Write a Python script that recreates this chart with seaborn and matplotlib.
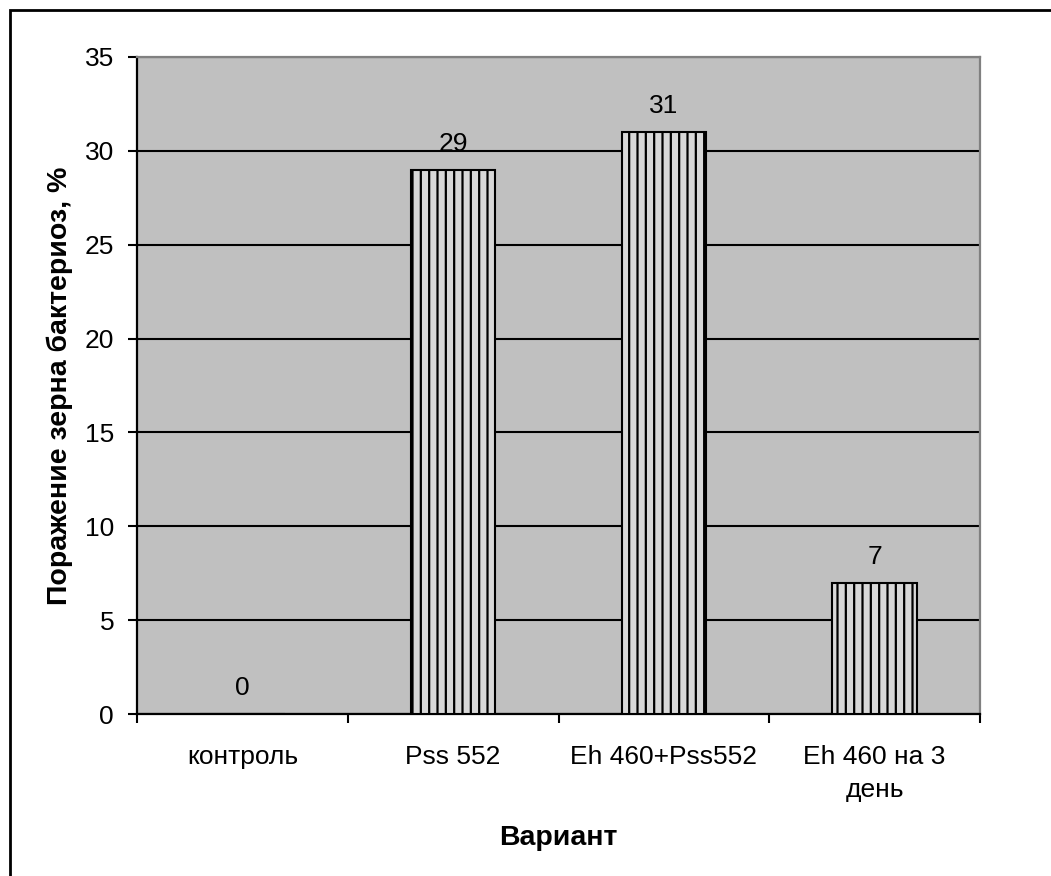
import matplotlib
matplotlib.use("Agg")
import matplotlib.pyplot as plt
import seaborn as sns
import pandas as pd
from matplotlib.patches import Rectangle

categories = ["контроль", "Pss 552", "Eh 460+Pss552", "Eh 460 на 3\nдень"]
values = [0, 29, 31, 7]
y_ticks = [0, 5, 10, 15, 20, 25, 30, 35]

sns.set_theme(style="white")
plt.rcParams["font.family"] = ["Liberation Sans", "DejaVu Sans"]
plt.rcParams["hatch.color"] = "#b8b8b8"
plt.rcParams["hatch.linewidth"] = 1.6
for key in ["text.color", "axes.labelcolor", "xtick.color", "ytick.color"]:
    plt.rcParams[key] = "black"

df = pd.DataFrame({"variant": categories, "value": values})

fig = plt.figure(figsize=(10.51, 8.76), dpi=100)
ax = fig.add_axes([137 / 1051, 1 - 714 / 876, (980 - 137) / 1051, (714 - 57) / 876])
ax.set_facecolor("#c0c0c0")

sns.barplot(data=df, x="variant", y="value", ax=ax, width=0.4,
            color="#d8d8d8", edgecolor="black", linewidth=1.5, zorder=3)
for p in ax.patches:
    p.set_hatch("||")
    p.set_facecolor("#d8d8d8")

ax.set_ylim(0, 35)
ax.set_xlim(-0.5, 3.5)
ax.set_yticks(y_ticks)
ax.yaxis.grid(True, color="black", linewidth=1.5, zorder=1)
ax.set_axisbelow(True)

# category boundaries as major ticks, names on minor ticks
ax.set_xticks([-0.5, 0.5, 1.5, 2.5, 3.5])
ax.set_xticklabels([])
ax.set_xticks(range(len(categories)), minor=True)
ax.set_xticklabels(categories, minor=True, fontsize=19, linespacing=1.5)
ax.tick_params(axis="x", which="major", direction="out", length=6.5, width=1.5, color="black", bottom=True)
ax.tick_params(axis="x", which="minor", length=0, pad=22)
ax.tick_params(axis="y", which="major", direction="out", length=6.5, width=1.5, color="black", left=True,
               labelsize=19, pad=10)

for side in ["left", "bottom"]:
    ax.spines[side].set_color("black")
    ax.spines[side].set_linewidth(1.6)
for side in ["top", "right"]:
    ax.spines[side].set_color("#808080")
    ax.spines[side].set_linewidth(1.6)
    ax.spines[side].set_visible(True)

for i, v in enumerate(values):
    ax.annotate(f"{v}", (i, v), xytext=(0, 10), textcoords="offset points",
                ha="center", va="bottom", fontsize=19, color="black")

ax.set_xlabel("Вариант", fontsize=20.5, fontweight="bold")
ax.set_ylabel("Поражение зерна бактериоз, %", fontsize=20.5, fontweight="bold")
ax.xaxis.set_label_coords(0.5, -(825 - 714) / 657)
ax.yaxis.set_label_coords((73 - 137) / 843, 0.5)

fig.patches.append(Rectangle((10 / 1051, -0.1), 1.2, 1 - 10 / 876 + 0.1, transform=fig.transFigure,
                             fill=False, edgecolor="black", linewidth=2))

fig.savefig("out.png", dpi=100, facecolor="white")
